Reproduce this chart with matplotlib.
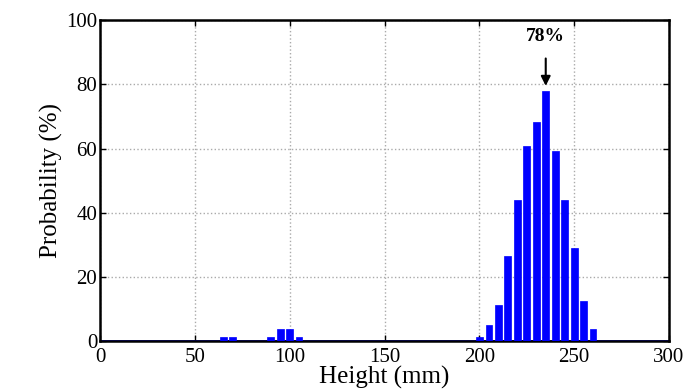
import matplotlib
matplotlib.use("Agg")
import matplotlib.pyplot as plt

heights_mm = [65, 70, 90, 95, 100, 105,
              200, 205, 210, 215, 220, 225, 230, 235, 240, 245, 250, 255, 260]
probability = [1.5, 1.5, 1.5, 3.8, 3.8, 1.5,
               1.5, 5.1, 11.4, 26.6, 44.0, 60.7, 68.2, 78.0, 59.3, 44.0, 29.0, 12.7, 3.8]
xticks = [0, 50, 100, 150, 200, 250, 300]
yticks = [0, 20, 40, 60, 80, 100]
peak_label = "78%"

plt.rcParams['font.family'] = ['Liberation Serif', 'DejaVu Serif']

fig = plt.figure(figsize=(6.92, 3.91), dpi=100)
ax = fig.add_axes([0.1445, 0.1266, 0.8223, 0.8222])

ax.axhline(0, color='blue', lw=2, zorder=2)
ax.bar(heights_mm, probability, width=3.5, color='blue', edgecolor='blue', lw=0.5, zorder=3)

ax.set_xlim(0, 300)
ax.set_ylim(0, 100)
ax.set_xticks(xticks)
ax.set_yticks(yticks)
ax.tick_params(direction='in', labelsize=15, length=4, width=1, top=True, right=True, pad=2)
ax.tick_params(axis='x', pad=5)
ax.grid(True, linestyle=':', color='#aaaaaa', lw=1)
for s in ax.spines.values():
    s.set_linewidth(1.8)

ax.set_xlabel('Height (mm)', fontsize=18, labelpad=-1)
ax.set_ylabel('Probability (%)', fontsize=18, labelpad=2)

peak_i = probability.index(max(probability))
ax.annotate(peak_label, xy=(heights_mm[peak_i], probability[peak_i] + 1.5),
            xytext=(heights_mm[peak_i], 95), ha='center', va='center',
            fontsize=14, fontweight='bold',
            arrowprops=dict(arrowstyle='-|>', color='black', lw=1.5, mutation_scale=14,
                            shrinkA=8, shrinkB=0))

fig.savefig('out.png', dpi=100)
